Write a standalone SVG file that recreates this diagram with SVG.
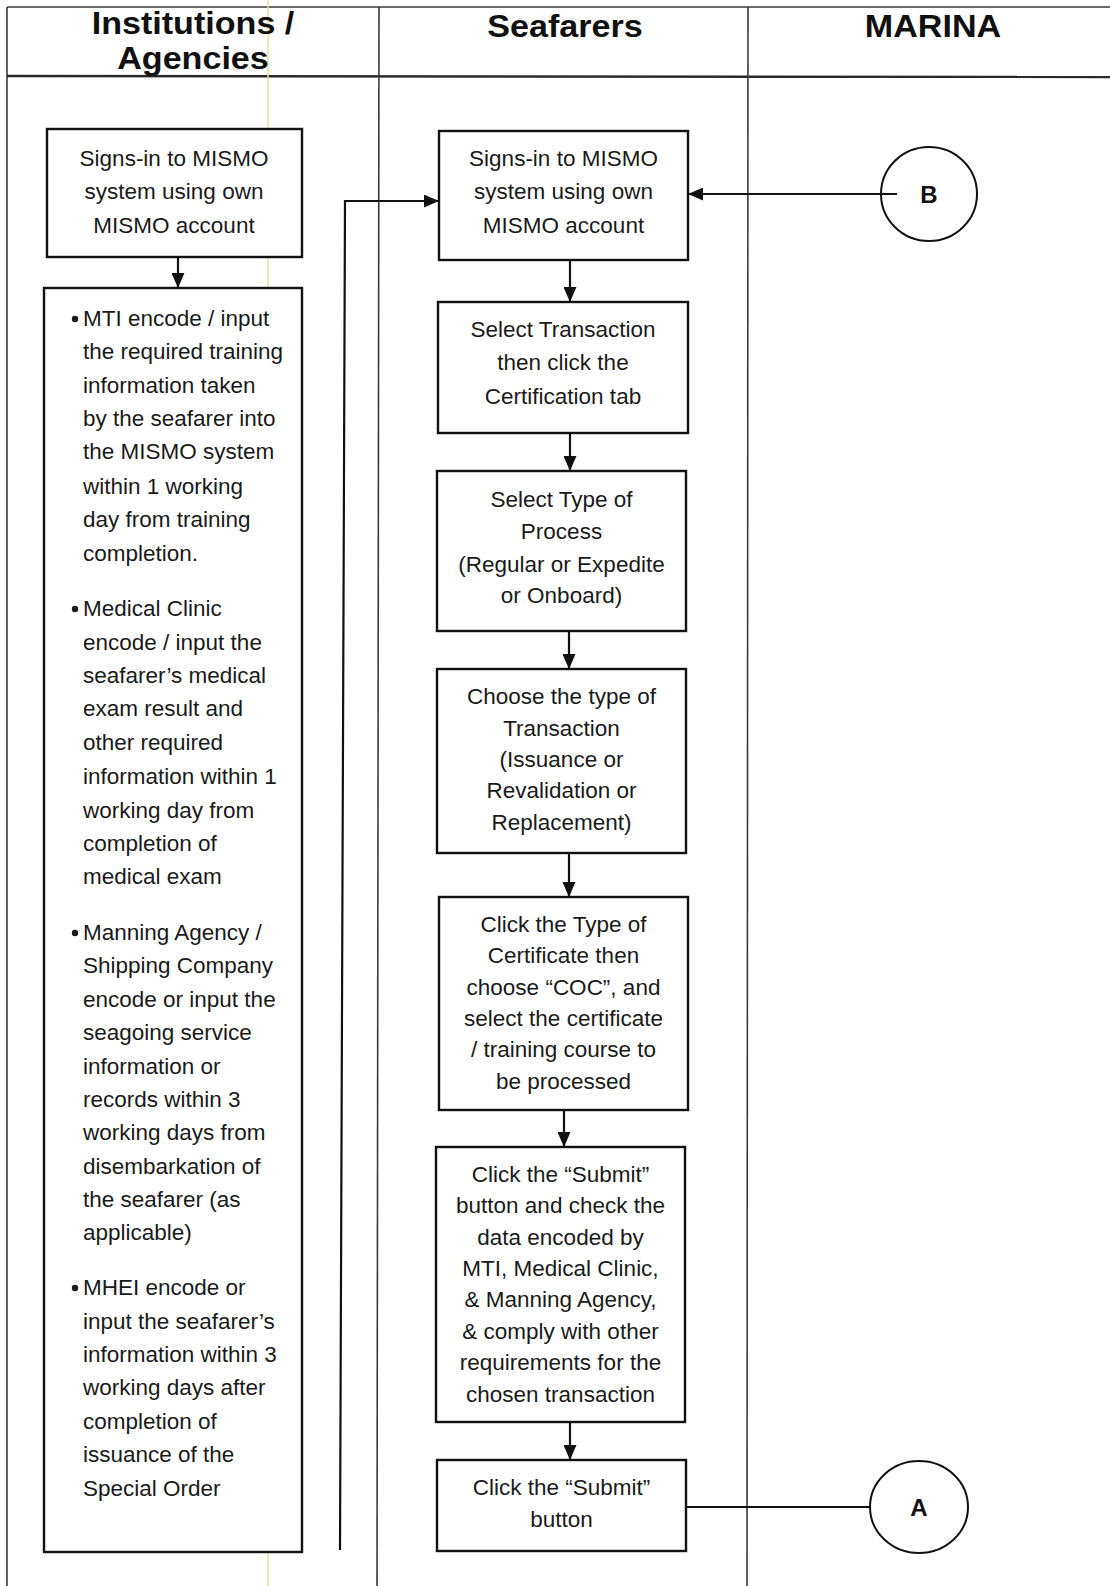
<svg xmlns="http://www.w3.org/2000/svg" width="1110" height="1586" viewBox="0 0 1110 1586">
  <style>
    .frame { stroke: #3a3a3a; stroke-width: 1.6; fill: none; }
    .hdrline { stroke: #2a2a2a; stroke-width: 2.4; fill: none; }
    .box { fill: #ffffff; stroke: #111111; stroke-width: 2.4; }
    .conn { stroke: #111111; stroke-width: 2.2; fill: none; }
    .hdr { font-family: "Liberation Sans", Arial, sans-serif; font-weight: bold; font-size: 31px; fill: #111111; }
    .t { font-family: "Liberation Sans", Arial, sans-serif; font-size: 22.5px; fill: #1a1a1a; }
    .c { text-anchor: middle; }
    .lbl { font-family: "Liberation Sans", Arial, sans-serif; font-weight: bold; font-size: 24px; fill: #111111; text-anchor: middle; }
  </style>
  <defs>
    <marker id="arr" markerUnits="userSpaceOnUse" markerWidth="15" markerHeight="13" refX="15" refY="6.5" orient="auto">
      <path d="M0,0 L15,6.5 L0,13 z" fill="#111111"/>
    </marker>
  </defs>

  <rect x="0" y="0" width="1110" height="1586" fill="#ffffff"/>

  <!-- swimlane frame -->
  <g id="lanes">
    <line class="frame" x1="7" y1="7" x2="1110" y2="7"/>
    <line class="frame" x1="7" y1="7" x2="7" y2="1586"/>
    <line class="hdrline" x1="7" y1="76" x2="1110" y2="77"/>
    <line class="frame" x1="379" y1="7" x2="377" y2="1586"/>
    <line class="frame" x1="748" y1="7" x2="747" y2="1586"/>
    <line x1="268" y1="0" x2="268" y2="1586" stroke="#f0df8c" stroke-width="1.5"/>
    <text class="hdr c" transform="matrix(1.1 0 0 1 193 0)"><tspan x="0" y="34">Institutions /</tspan><tspan x="0" y="69">Agencies</tspan></text>
    <text class="hdr c" transform="matrix(1.1 0 0 1 565 0)"><tspan x="0" y="37">Seafarers</tspan></text>
    <text class="hdr c" transform="matrix(1.1 0 0 1 933 0)"><tspan x="0" y="37">MARINA</tspan></text>
  </g>

  <!-- connectors -->
  <g id="connectors">
    <line class="conn" x1="178" y1="257" x2="178" y2="288" marker-end="url(#arr)"/>
    <path class="conn" d="M340,1550 L345,201 H439" marker-end="url(#arr)"/>
    <line class="conn" x1="897" y1="194" x2="688" y2="194" marker-end="url(#arr)"/>
    <line class="conn" x1="570" y1="260" x2="570" y2="302" marker-end="url(#arr)"/>
    <line class="conn" x1="570" y1="433" x2="570" y2="471" marker-end="url(#arr)"/>
    <line class="conn" x1="569" y1="631" x2="569" y2="669" marker-end="url(#arr)"/>
    <line class="conn" x1="569" y1="853" x2="569" y2="897" marker-end="url(#arr)"/>
    <line class="conn" x1="564" y1="1110" x2="564" y2="1147" marker-end="url(#arr)"/>
    <line class="conn" x1="570" y1="1422" x2="570" y2="1460" marker-end="url(#arr)"/>
    <line class="conn" x1="686" y1="1507" x2="870" y2="1507"/>
  </g>

  <!-- Institutions / Agencies -->
  <g id="inst-signin">
    <rect class="box" x="47" y="129" width="255" height="128"/>
    <text class="t c"><tspan x="174" y="166">Signs-in to MISMO</tspan><tspan x="174" y="199">system using own</tspan><tspan x="174" y="233">MISMO account</tspan></text>
  </g>

  <g id="inst-encode">
    <rect class="box" x="44" y="288" width="258" height="1264"/>
    <circle cx="75" cy="319" r="3.2" fill="#1a1a1a"/>
    <circle cx="75" cy="609" r="3.2" fill="#1a1a1a"/>
    <circle cx="75" cy="933" r="3.2" fill="#1a1a1a"/>
    <circle cx="75" cy="1288" r="3.2" fill="#1a1a1a"/>
    <text class="t">
      <tspan x="83" y="326">MTI encode / input</tspan>
      <tspan x="83" y="359">the required training</tspan>
      <tspan x="83" y="393">information taken</tspan>
      <tspan x="83" y="426">by the seafarer into</tspan>
      <tspan x="83" y="459">the MISMO system</tspan>
      <tspan x="83" y="494">within 1 working</tspan>
      <tspan x="83" y="527">day from training</tspan>
      <tspan x="83" y="561">completion.</tspan>
    </text>
    <text class="t">
      <tspan x="83" y="616">Medical Clinic</tspan>
      <tspan x="83" y="650">encode / input the</tspan>
      <tspan x="83" y="683">seafarer’s medical</tspan>
      <tspan x="83" y="716">exam result and</tspan>
      <tspan x="83" y="750">other required</tspan>
      <tspan x="83" y="784">information within 1</tspan>
      <tspan x="83" y="818">working day from</tspan>
      <tspan x="83" y="851">completion of</tspan>
      <tspan x="83" y="884">medical exam</tspan>
    </text>
    <text class="t">
      <tspan x="83" y="940">Manning Agency /</tspan>
      <tspan x="83" y="973">Shipping Company</tspan>
      <tspan x="83" y="1007">encode or input the</tspan>
      <tspan x="83" y="1040">seagoing service</tspan>
      <tspan x="83" y="1074">information or</tspan>
      <tspan x="83" y="1107">records within 3</tspan>
      <tspan x="83" y="1140">working days from</tspan>
      <tspan x="83" y="1174">disembarkation of</tspan>
      <tspan x="83" y="1207">the seafarer (as</tspan>
      <tspan x="83" y="1240">applicable)</tspan>
    </text>
    <text class="t">
      <tspan x="83" y="1295">MHEI encode or</tspan>
      <tspan x="83" y="1329">input the seafarer’s</tspan>
      <tspan x="83" y="1362">information within 3</tspan>
      <tspan x="83" y="1395">working days after</tspan>
      <tspan x="83" y="1429">completion of</tspan>
      <tspan x="83" y="1462">issuance of the</tspan>
      <tspan x="83" y="1496">Special Order</tspan>
    </text>
  </g>

  <!-- Seafarers -->
  <g id="sea-signin">
    <rect class="box" x="439" y="131" width="249" height="129"/>
    <text class="t c"><tspan x="563.5" y="166">Signs-in to MISMO</tspan><tspan x="563.5" y="199">system using own</tspan><tspan x="563.5" y="233">MISMO account</tspan></text>
  </g>
  <g id="sea-select-transaction">
    <rect class="box" x="438" y="302" width="250" height="131"/>
    <text class="t c"><tspan x="563" y="337">Select Transaction</tspan><tspan x="563" y="370">then click the</tspan><tspan x="563" y="404">Certification tab</tspan></text>
  </g>
  <g id="sea-select-process">
    <rect class="box" x="437" y="471" width="249" height="160"/>
    <text class="t c"><tspan x="561.5" y="507">Select Type of</tspan><tspan x="561.5" y="539">Process</tspan><tspan x="561.5" y="572">(Regular or Expedite</tspan><tspan x="561.5" y="603">or Onboard)</tspan></text>
  </g>
  <g id="sea-choose-transaction">
    <rect class="box" x="437" y="669" width="249" height="184"/>
    <text class="t c"><tspan x="561.5" y="704">Choose the type of</tspan><tspan x="561.5" y="736">Transaction</tspan><tspan x="561.5" y="767">(Issuance or</tspan><tspan x="561.5" y="798">Revalidation or</tspan><tspan x="561.5" y="830">Replacement)</tspan></text>
  </g>
  <g id="sea-certificate">
    <rect class="box" x="439" y="897" width="249" height="213"/>
    <text class="t c"><tspan x="563.5" y="932">Click the Type of</tspan><tspan x="563.5" y="963">Certificate then</tspan><tspan x="563.5" y="995">choose “COC”, and</tspan><tspan x="563.5" y="1026">select the certificate</tspan><tspan x="563.5" y="1057">/ training course to</tspan><tspan x="563.5" y="1089">be processed</tspan></text>
  </g>
  <g id="sea-submit-check">
    <rect class="box" x="436" y="1147" width="249" height="275"/>
    <text class="t c"><tspan x="560.5" y="1182">Click the “Submit”</tspan><tspan x="560.5" y="1213">button and check the</tspan><tspan x="560.5" y="1245">data encoded by</tspan><tspan x="560.5" y="1276">MTI, Medical Clinic,</tspan><tspan x="560.5" y="1307">&amp; Manning Agency,</tspan><tspan x="560.5" y="1339">&amp; comply with other</tspan><tspan x="560.5" y="1370">requirements for the</tspan><tspan x="560.5" y="1402">chosen transaction</tspan></text>
  </g>
  <g id="sea-submit">
    <rect class="box" x="437" y="1460" width="249" height="91"/>
    <text class="t c"><tspan x="561.5" y="1495">Click the “Submit”</tspan><tspan x="561.5" y="1527">button</tspan></text>
  </g>

  <!-- MARINA connectors -->
  <g id="conn-b">
    <ellipse cx="929" cy="194" rx="48" ry="47" fill="none" stroke="#111111" stroke-width="2"/>
    <text class="lbl" x="929" y="203">B</text>
  </g>
  <g id="conn-a">
    <ellipse cx="919" cy="1507" rx="49" ry="46" fill="none" stroke="#111111" stroke-width="2"/>
    <text class="lbl" x="919" y="1516">A</text>
  </g>
</svg>
